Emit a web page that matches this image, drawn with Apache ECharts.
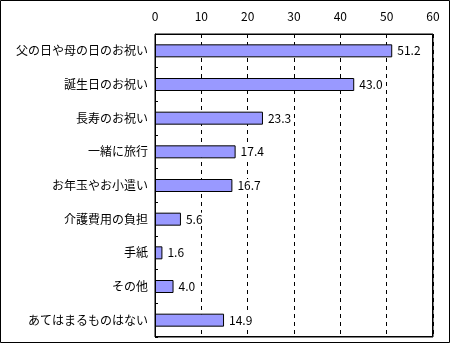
<!DOCTYPE html>
<html><head><meta charset="utf-8">
<script src="https://cdn.jsdelivr.net/npm/echarts@6/dist/echarts.min.js"></script>
<style>html,body{margin:0;padding:0;background:#fff;}#c{width:450px;height:343px;}</style>
</head><body><div id="c"></div>
<script>
const categories = ["父の日や母の日のお祝い","誕生日のお祝い","長寿のお祝い","一緒に旅行","お年玉やお小遣い","介護費用の負担","手紙","その他","あてはまるものはない"];
const values = [51.2, 43.0, 23.3, 17.4, 16.7, 5.6, 1.6, 4.0, 14.9];
const xTicks = [0, 10, 20, 30, 40, 50, 60];

const chart = echarts.init(document.getElementById('c'), null, {renderer: 'canvas'});
const font = '"Noto Sans CJK JP", "DejaVu Sans", sans-serif';
const G = {left: 155, right: 17, top: 34, bottom: 6};
chart.setOption({
  animation: false,
  backgroundColor: '#fff',
  textStyle: {fontFamily: font},
  grid: {left: G.left, right: G.right, top: G.top, bottom: G.bottom, show: true, borderColor: '#000', borderWidth: 1, backgroundColor: 'transparent'},
  xAxis: {
    type: 'value', position: 'top', min: xTicks[0], max: xTicks[xTicks.length-1], interval: 10,
    axisLine: {show: false}, axisTick: {show: false},
    axisLabel: {color: '#000', fontSize: 12, fontFamily: font, margin: 12},
    splitLine: {show: true, lineStyle: {color: '#000', type: [4, 4], width: 1}}
  },
  yAxis: {
    type: 'category', data: categories, inverse: true,
    axisLine: {show: true, lineStyle: {color: '#000'}},
    axisTick: {show: true, inside: true, length: 3, lineStyle: {color: '#000'}},
    axisLabel: {color: '#000', fontSize: 12, fontFamily: font, margin: 7}
  },
  series: [{
    type: 'bar', data: values, barWidth: 13,
    itemStyle: {color: '#9999ff', borderColor: '#000', borderWidth: 1},
    label: {show: true, position: 'right', distance: 3, color: '#000', fontSize: 12, fontFamily: font,
      backgroundColor: '#fff', padding: [1, 2, 0, 2],
      formatter: p => p.value.toFixed(1)}
  }],
  graphic: [
    {type: 'rect', z: 100, shape: {x: 0.5, y: 0.5, width: 449, height: 342}, style: {fill: 'none', stroke: '#000', lineWidth: 1}, silent: true},
    {type: 'rect', z: 100, shape: {x: G.left + 0.5, y: G.top + 0.5, width: 450 - G.left - G.right - 1, height: 343 - G.top - G.bottom - 1}, style: {fill: 'none', stroke: '#000', lineWidth: 1}, silent: true}
  ]
});
</script></body></html>
